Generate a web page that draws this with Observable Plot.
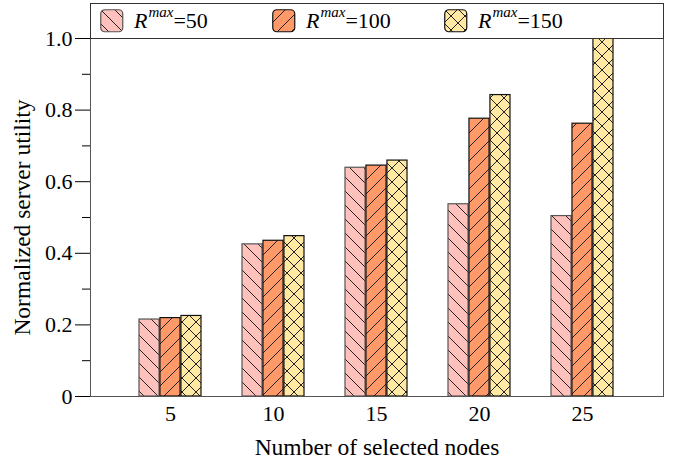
<!DOCTYPE html>
<html>
<head>
<meta charset="utf-8">
<script src="https://cdn.jsdelivr.net/npm/d3@7"></script>
<script src="https://cdn.jsdelivr.net/npm/@observablehq/plot@0.6"></script>
<style>
  html, body { margin: 0; padding: 0; background: #fff; }
  #chart { position: relative; width: 675px; height: 458px; font-family: "Liberation Serif", "Times New Roman", serif; }
  #chart > svg text { font-family: "Liberation Serif", "Times New Roman", serif; font-size: 22px; fill: #000; }
  #chart > svg g[aria-label$="axis label"] text { font-size: 23.5px; }
  #legend { position: absolute; left: 90px; top: 3px; width: 572px; height: 34px; border: 1px solid #333; background: #fff; box-sizing: content-box; }
  .item { position: absolute; top: 0; height: 34px; display: flex; align-items: center; font-size: 22px; color: #000; }
  .item svg { margin-right: 10px; }
  .item sup { font-size: 15px; font-style: italic; position: relative; top: -3px; margin-left: 1px; }
</style>
</head>
<body>
<svg width="0" height="0" style="position:absolute">
  <defs>
    <pattern id="pat0" patternUnits="userSpaceOnUse" width="14" height="14">
      <rect width="14" height="14" fill="#FFC1BC"></rect>
      <path d="M0,0L14,14M-1,13L1,15M13,-1L15,1" stroke="#222" stroke-width="1"></path>
    </pattern>
    <pattern id="pat1" patternUnits="userSpaceOnUse" width="14" height="14">
      <rect width="14" height="14" fill="#FF9A68"></rect>
      <path d="M0,14L14,0M-1,1L1,-1M13,15L15,13" stroke="#222" stroke-width="1"></path>
    </pattern>
    <pattern id="pat2" patternUnits="userSpaceOnUse" width="14" height="14">
      <rect width="14" height="14" fill="#FFE9A3"></rect>
      <path d="M0,0L14,14M-1,13L1,15M13,-1L15,1M0,14L14,0M-1,1L1,-1M13,15L15,13" stroke="#222" stroke-width="1"></path>
    </pattern>
  </defs>
</svg>
<div id="chart"></div>
<script>
// ---- data ----
const nodes = [5, 10, 15, 20, 25];
const seriesNames = ["R50", "R100", "R150"];
const seriesLabels = ["50", "100", "150"];
const r50  = [0.215, 0.425, 0.639, 0.537, 0.504];
const r100 = [0.219, 0.435, 0.645, 0.776, 0.762];
const r150 = [0.225, 0.448, 0.659, 0.842, 1.0];
const yMajorTicks = [0, 0.2, 0.4, 0.6, 0.8, 1.0];
const yMinorTicks = [0.1, 0.3, 0.5, 0.7, 0.9];

// ---- layout / styles ----
const W = 675, H = 458, ML = 90, MR = 12, MT = 38, MB = 62;
const xScaleOpts = {type: "band", domain: nodes, paddingInner: 0.394, paddingOuter: 0.457};
const fills = ["url(#pat0)", "url(#pat1)", "url(#pat2)"];
const strokes = ["#555", "#111", "#111"];

const values = [r50, r100, r150];
const rows = [];
seriesNames.forEach((s, i) => nodes.forEach((n, j) => rows.push({nodes: n, series: s, value: values[i][j]})));

// bandwidth of one group, to split it into three adjacent bars
const bw = Plot.scale({x: {...xScaleOpts, range: [ML, W - MR]}}).bandwidth;
const k = seriesNames.length;

const barMarks = seriesNames.map((s, i) =>
  Plot.barY(rows.filter(d => d.series === s), {
    x: "nodes", y: "value",
    insetLeft: i * bw / k, insetRight: (k - 1 - i) * bw / k,
    fill: fills[i], stroke: strokes[i], strokeWidth: 1.2
  })
);

const chart = Plot.plot({
  width: W, height: H,
  marginLeft: ML, marginRight: MR, marginTop: MT, marginBottom: MB,
  style: {fontFamily: "'Liberation Serif', 'Times New Roman', serif", fontSize: "22px", color: "#000", background: "#fff"},
  x: xScaleOpts,
  y: {domain: [0, 1]},
  marks: [
    ...barMarks,
    Plot.frame({stroke: "#555"}),
    Plot.axisY({ticks: yMinorTicks, tickSize: 8, tickFormat: () => "", label: null}),
    Plot.axisY({
      ticks: yMajorTicks, tickSize: 15, tickPadding: 3, fontSize: 22,
      tickFormat: d => d === 0 ? "0" : d.toFixed(1),
      label: "Normalized server utility", labelAnchor: "center", labelOffset: 77, labelArrow: "none",
      line: true
    }),
    Plot.axisX({
      anchor: "bottom", tickSize: 0, tickPadding: 9, fontSize: 22,
      label: "Number of selected nodes", labelAnchor: "center", labelOffset: 58, labelArrow: "none"
    })
  ]
});

const container = document.getElementById("chart");
container.appendChild(chart);

// legend (inside the plot's top band)
const legend = document.createElement("div");
legend.id = "legend";
seriesNames.forEach((s, i) => {
  const item = document.createElement("div");
  item.className = "item";
  item.style.left = (9 + i * 172) + "px";
  item.innerHTML =
    `<svg width="24" height="24"><rect x="0.75" y="0.75" width="22" height="22" rx="4" fill="${fills[i]}" stroke="${strokes[i]}" stroke-width="1.2"></rect></svg>` +
    `<span><i>R</i><sup>max</sup>=${seriesLabels[i]}</span>`;
  legend.appendChild(item);
});
container.appendChild(legend);
</script>
</body>
</html>
